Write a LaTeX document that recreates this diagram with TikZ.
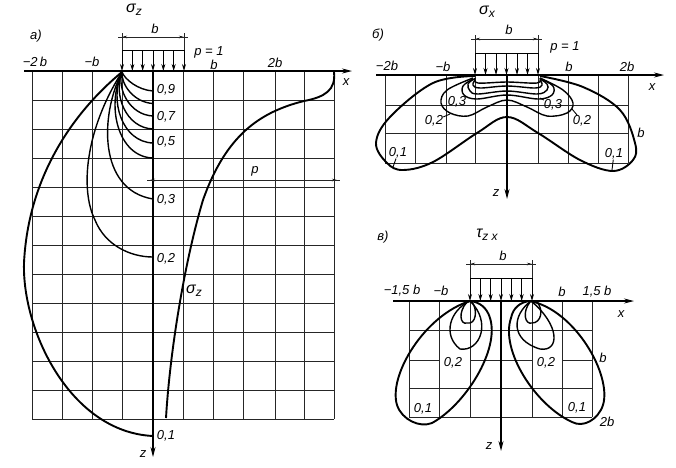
\documentclass[tikz,border=0pt]{standalone}
\usepackage{fontspec}
\setmainfont{Liberation Sans}
\usepackage{tikz}
\usetikzlibrary{arrows.meta,positioning}

\tikzset{
	gridline/.style={line width=0.8pt,color=black!85},
	axisline/.style={line width=1.1pt,-{Stealth[length=10pt,width=5pt]}},
	isoline/.style={line width=1.4pt},
	boldline/.style={line width=1.9pt},
	loadline/.style={line width=0.9pt},
	loadtip/.style={-{Stealth[length=7pt,width=4pt]}},
	dimtip/.style={{Stealth[length=5pt,width=2.5pt]}-{Stealth[length=5pt,width=2.5pt]}},
	lbl/.style={inner sep=0pt,font=\fontsize{13}{15}\selectfont\itshape},
	stresslbl/.style={inner sep=0pt,font=\fontsize{16}{18}\selectfont\itshape},
}

\newcommand{\subl}[1]{\raisebox{-3pt}{\fontsize{12}{12}\selectfont #1}}

% load block: left x, right x, top of the load, level of the dimension line, level of the axis
\newcommand{\loadbar}[5]{
	\draw[loadline] (#1,#3)--(#2,#3);
	\foreach \i in {0,...,6}
		\draw[loadline,loadtip] ({#1+\i*(#2-#1)/6},#3)--({#1+\i*(#2-#1)/6},#5);
	\draw[loadline,dimtip] (#1,#4)--(#2,#4);
	\draw[gridline] (#1-4,#4)--(#2+4,#4);
	\draw[gridline] (#1,#4-4)--(#1,#3);
	\draw[gridline] (#2,#4-4)--(#2,#3);
}

\begin{document}
\begin{tikzpicture}[x=1pt,y=-1pt]
	\useasboundingbox (0,0) rectangle (676,467);

	% a)
	\foreach \gx in {32,62.5,92.7,122,183,213.7,243.7,275,304,334}
		\draw[gridline] (\gx,71)--(\gx,419);
	\foreach \gy in {100,129,158,187,216,245,274,303,332,361,390,419}
		\draw[gridline] (32,\gy)--(334,\gy);
	\draw[axisline] (24,71)--(352,71);
	\draw[axisline] (153,71)--(153,457);
	\loadbar{122}{184}{50}{37}{71}
	\draw[loadline,dimtip] (150,180)--(337,180);
	\draw[gridline] (147,180)--(340,180);
	\foreach \zend/\xa/\xb in {91/125/138,103.5/121/134,116/117/130,129/113/126,143/109/122,158/106/118}
		\draw[isoline] (122,72) .. controls (\xa,{72+0.4*(\zend-72)}) and (\xb,\zend-1) .. (153,\zend);
	\draw[isoline] (122,72) .. controls (100,115) and (98,190) .. (153,199);
	\draw[isoline] (122,72) .. controls (85,130) and (80,190) .. (95,220) .. controls (105,245) and (130,257) .. (153,257);
	\draw[boldline] (122,72) .. controls (70,115) and (28,180) .. (24,263) .. controls (22,330) and (70,432) .. (153,436);
	\draw[boldline] (334,72) .. controls (336,90) and (325,97) .. (304,101) .. controls (260,112) and (226,135) .. (203,200) .. controls (185,260) and (170,350) .. (166,418);

	\node[stresslbl] (sigA) at (134,10) {σ\subl{z}};
	\node[lbl] (capA) at (36,36) {а)};
	\node[lbl] (bA) at (155,29) {b};
	\node[lbl] (pA) at (209,52) {p = 1};
	\node[lbl] (mtwoA) at (35,62) {−2\,b};
	\node[lbl] (moneA) at (92,62) {−b};
	\node[lbl] (poneA) at (214,65) {b};
	\node[lbl] (ptwoA) at (275,63) {2b};
	\node[lbl] (xA) at (346,82) {x};
	\node[lbl] (zA) at (143,454) {z};
	\node[lbl] (pdimA) at (255,171) {p};
	\node[stresslbl] (szA) at (194,291) {σ\subl{z}};
	\node[lbl] (a9) at (166,90) {0,9};
	\node[lbl] (a7) at (166,117) {0,7};
	\node[lbl] (a5) at (166,142) {0,5};
	\node[lbl] (a3) at (166,200) {0,3};
	\node[lbl] (a2) at (166,259) {0,2};
	\node[lbl] (a1) at (166,436) {0,1};

	% b)
	\foreach \gx in {385,415,446,475,538,568,598,628}
		\draw[gridline] (\gx,75)--(\gx,163);
	\foreach \gy in {105,133,163}
		\draw[gridline] (385,\gy)--(628,\gy);
	\draw[axisline] (376,75)--(664,75);
	\draw[axisline] (507,75)--(507,199);
	\loadbar{475}{538}{53}{39}{75}
	\draw[boldline] plot [smooth, tension=0.6] coordinates {(475,76) (433,83) (390,117) (376,143) (387,163) (403,170) (433,162) (477,133) (507,117) (538,133) (580,160) (613,171) (633,160) (635,143) (620,110) (583,87) (540,76)};
	\draw[isoline] plot [smooth, tension=0.6] coordinates {(473,78) (447,90) (441,103) (450,113) (468,116) (487,107) (507,100) (527,107) (547,116) (567,113) (573,103) (563,90) (540,78)};
	\draw[isoline] plot [smooth, tension=0.6] coordinates {(473,79) (463,86) (464,95) (477,99) (507,95) (538,99) (552,95) (553,86) (541,79)};
	\draw[isoline] plot [smooth, tension=0.6] coordinates {(474,79) (468,84) (470,91) (478,94) (507,91) (537,94) (547,90) (547,84) (540,79)};
	\draw[isoline] plot [smooth, tension=0.6] coordinates {(475,80) (473,85) (480,88) (507,86) (535,88) (542,85) (540,80)};
	\draw[isoline] plot [smooth, tension=0.6] coordinates {(475,78) (478,83) (507,82) (537,83) (540,78)};

	\node[stresslbl] (sigB) at (487,12) {σ\subl{x}};
	\node[lbl] (capB) at (378,35) {б)};
	\node[lbl] (bB) at (509,30) {b};
	\node[lbl] (pB) at (565,47) {p = 1};
	\node[lbl] (mtwoB) at (387,66) {−2b};
	\node[lbl] (moneB) at (443,67) {−b};
	\node[lbl] (poneB) at (569,67) {b};
	\node[lbl] (ptwoB) at (627,67) {2b};
	\node[lbl] (xB) at (652,87) {x};
	\node[lbl] (zB) at (496,193) {z};
	\node[lbl] (b3l) at (457,102) {0,3};
	\node[lbl] (b3r) at (553,105) {0,3};
	\node[lbl] (b2l) at (434,121) {0,2};
	\node[lbl] (b2r) at (582,121) {0,2};
	\node[lbl] (b1l) at (398,153) {0,1};
	\node[lbl] (b1r) at (614,154) {0,1};
	\node[lbl] (bside) at (641,133) {b};
	% short leaders from the labels to their curves
	\coordinate (b2lend) at (450,114);
	\coordinate (b2rend) at (572,109);
	\coordinate (b3rend) at (540,98);
	\coordinate (b1lend) at (393,167);
	\coordinate (b1rend) at (612,170);
	\draw[loadline] (b2l)--(b2lend);
	\draw[loadline] (b2r)--(b2rend);
	\draw[loadline] (b3r)--(b3rend);
	\draw[loadline] (b1l)--(b1lend);
	\draw[loadline] (b1r)--(b1rend);

	% v)
	\foreach \gx in {409,439,470,532,562,592}
		\draw[gridline] (\gx,301)--(\gx,417);
	\foreach \gy in {330,388,417}
		\draw[gridline] (409,\gy)--(592,\gy);
	\draw[gridline] (409,360)--(439,360);
	\draw[gridline] (470,360)--(532,360);
	\draw[gridline] (562,360)--(592,360);
	\draw[axisline] (393,301)--(634,301);
	\draw[axisline] (501,301)--(501,451);
	\loadbar{470}{532}{278}{264}{301}
	\draw[boldline] (470,301) .. controls (425,315) and (388,375) .. (397,405) .. controls (402,420) and (420,428) .. (432,423) .. controls (465,405) and (500,350) .. (490,318) .. controls (487,308) and (480,302) .. (470,301);
	\draw[isoline] (470,301) .. controls (450,310) and (442,335) .. (460,349) .. controls (480,352) and (492,322) .. (470,301);
	\draw[isoline] (467,302) .. controls (458,312) and (460,325) .. (467,323) .. controls (476,325) and (478,310) .. (472,302);
	\draw[boldline] (530,301) .. controls (575,310) and (612,375) .. (603,405) .. controls (598,420) and (583,428) .. (572,422) .. controls (535,405) and (500,350) .. (511,318) .. controls (513,308) and (520,302) .. (530,301);
	\draw[isoline] (531,301) .. controls (512,315) and (510,340) .. (540,349) .. controls (560,352) and (560,325) .. (531,301);
	\draw[isoline] (530,302) .. controls (522,312) and (525,325) .. (532,323) .. controls (541,323) and (544,310) .. (537,302);

	\node[stresslbl] (sigC) at (487,235) {τ\subl{z x}};
	\node[lbl] (capC) at (383,237) {в)};
	\node[lbl] (bC) at (503,256) {b};
	\node[lbl] (mtwoC) at (402,291) {−1,5 b};
	\node[lbl] (moneC) at (441,291) {−b};
	\node[lbl] (poneC) at (562,292) {b};
	\node[lbl] (ptwoC) at (597,292) {1,5 b};
	\node[lbl] (xC) at (621,314) {x};
	\node[lbl] (zC) at (489,446) {z};
	\node[lbl] (c2l) at (453,363) {0,2};
	\node[lbl] (c2r) at (546,363) {0,2};
	\node[lbl] (c1l) at (423,409) {0,1};
	\node[lbl] (c1r) at (577,408) {0,1};
	\node[lbl] (bsideC) at (603,358) {b};
	\node[lbl] (twobC) at (607,422) {2b};
\end{tikzpicture}
\end{document}
